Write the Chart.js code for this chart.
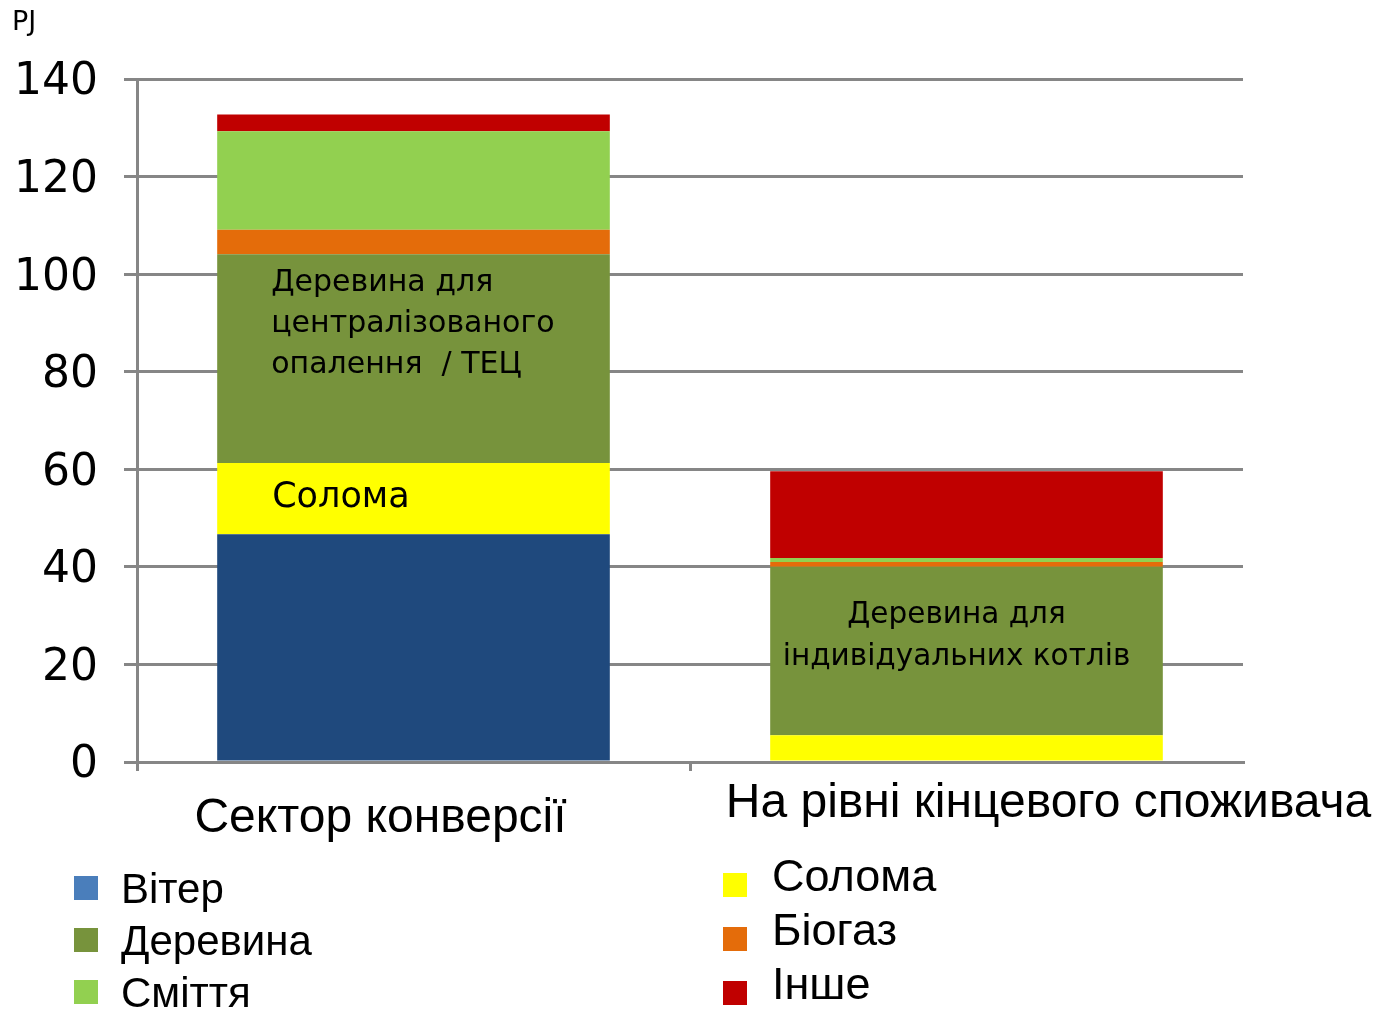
<!DOCTYPE html>
<html>
<head>
<meta charset="utf-8">
<script src="https://cdn.jsdelivr.net/npm/chart.js@4"></script>
<style>
  html, body { margin: 0; padding: 0; background: #fff; }
  #wrap { position: relative; width: 1381px; height: 1011px; }
</style>
</head>
<body>
<div id="wrap"><canvas id="myChart" width="1381" height="1011"></canvas></div>
<script>
// дані (PJ)
var categories = ['Сектор конверсії', 'На рівні кінцевого споживача'];
var seriesNames = ['Вітер', 'Солома', 'Деревина', 'Біогаз', 'Сміття', 'Інше'];
var windValues   = [46.7, 0];
var strawValues  = [14.6, 5.5];
var woodValues   = [42.8, 34.5];
var biogasValues = [5.0, 1.0];
var wasteValues  = [20.2, 0.8];
var otherValues  = [3.4, 17.8];
var yTicks = [0, 20, 40, 60, 80, 100, 120, 140];

// кольори
var barColors = ['#1F497D', '#FFFF00', '#77933C', '#E46C0A', '#92D050', '#C00000'];
var legendColors = ['#4A7EBB', '#FFFF00', '#77933C', '#E46C0A', '#92D050', '#C00000'];
// порядок у легенді: ліва колонка, права колонка
var legendLeft = [0, 2, 4];
var legendRight = [1, 3, 5];

var allValues = [windValues, strawValues, woodValues, biogasValues, wasteValues, otherValues];
var datasets = seriesNames.map(function (name, i) {
    return {
        label: name,
        data: allValues[i],
        backgroundColor: barColors[i],
        borderWidth: 0,
        barPercentage: 0.71,
        categoryPercentage: 1.0
    };
});

// підписи всередині стовпчиків + підписи осей + легенда
var annotations = {
    id: 'annotations',
    afterDatasetsDraw: function (chart) {
        var ctx = chart.ctx;
        ctx.save();
        ctx.fillStyle = '#000';
        ctx.textBaseline = 'middle';

        // PJ
        ctx.font = '27px "DejaVu Sans"';
        ctx.textAlign = 'left';
        ctx.fillText('PJ', 12, 23);

        // підписи осі Y (трохи нижче ліній, як в оригіналі)
        var ys = chart.scales.y;
        ctx.font = '44px "DejaVu Sans"';
        ctx.textAlign = 'right';
        yTicks.forEach(function (v) {
            ctx.fillText(String(v), 98, ys.getPixelForValue(v) + 4);
        });

        // деревина, стовпчик 1
        ctx.textAlign = 'left';
        var w1 = chart.getDatasetMeta(2).data[0];
        var left1 = w1.x - w1.width / 2;
        ctx.font = '30px "DejaVu Sans"';
        ctx.fillText('Деревина для', left1 + 54, w1.y + 29);
        ctx.fillText('централізованого', left1 + 54, w1.y + 70);
        ctx.fillText('опалення  / ТЕЦ', left1 + 54, w1.y + 111);

        // солома, стовпчик 1
        var s1 = chart.getDatasetMeta(1).data[0];
        ctx.font = '35px "DejaVu Sans"';
        ctx.fillText('Солома', left1 + 55, s1.y + 35);

        // деревина, стовпчик 2
        var w2 = chart.getDatasetMeta(2).data[1];
        ctx.font = '29.5px "DejaVu Sans"';
        ctx.textAlign = 'center';
        ctx.fillText('Деревина для', w2.x - 10, w2.y + 48);
        ctx.fillText('індивідуальних котлів', w2.x - 10, w2.y + 90);

        // категорії
        var xs = chart.scales.x;
        ctx.font = '48px "Liberation Sans"';
        ctx.fillText(categories[0], xs.getPixelForTick(0) - 33, 819);
        ctx.fillText(categories[1], xs.getPixelForTick(1) + 82, 804);

        // легенда
        ctx.textAlign = 'left';
        ctx.font = '42px "Liberation Sans"';
        legendLeft.forEach(function (idx, r) {
            var y = 888 + r * 52;
            ctx.fillStyle = legendColors[idx];
            ctx.fillRect(74, y - 12, 24, 24);
            ctx.fillStyle = '#000';
            ctx.fillText(seriesNames[idx], 121, y + 3);
        });
        ctx.font = '45px "Liberation Sans"';
        legendRight.forEach(function (idx, r) {
            var y = 882 + r * 54;
            ctx.fillStyle = legendColors[idx];
            ctx.fillRect(723, y - 9, 24, 24);
            ctx.fillStyle = '#000';
            ctx.fillText(seriesNames[idx], 772, y - 3);
        });
        ctx.restore();
    }
};

var ctx = document.getElementById('myChart').getContext('2d');
var myChart = new Chart(ctx, {
    type: 'bar',
    data: { labels: categories, datasets: datasets },
    options: {
        responsive: false,
        animation: false,
        layout: { padding: { left: 0, top: 79, right: 138, bottom: 0 } },
        plugins: { legend: { display: false }, tooltip: { enabled: false } },
        scales: {
            x: {
                stacked: true,
                grid: {
                    display: true,
                    drawOnChartArea: false,
                    // останню (праву) поділку не малюємо
                    color: function (c) { return c.tick ? '#868686' : 'rgba(0,0,0,0)'; },
                    lineWidth: 3,
                    tickLength: 9,
                    offset: true
                },
                border: { display: true, color: '#868686', width: 3 },
                ticks: { display: false },
                afterFit: function (scale) { scale.height = 1011 - 762; }
            },
            y: {
                stacked: true,
                min: 0,
                max: 140,
                afterBuildTicks: function (scale) {
                    scale.ticks = yTicks.map(function (v) { return { value: v }; });
                },
                grid: { color: '#868686', lineWidth: 3, tickLength: 13 },
                border: { display: true, color: '#868686', width: 3 },
                ticks: { display: false },
                afterFit: function (scale) { scale.width = 137; }
            }
        }
    },
    plugins: [annotations]
});
</script>
</body>
</html>
